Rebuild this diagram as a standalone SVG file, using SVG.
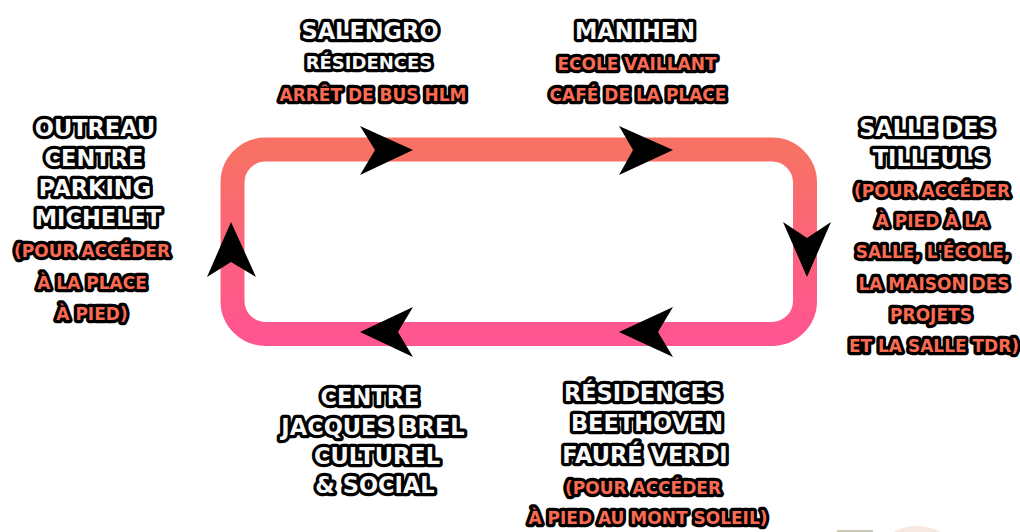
<svg xmlns="http://www.w3.org/2000/svg" width="1020" height="532" viewBox="0 0 1020 532">
<defs>
<linearGradient id="loopGrad" x1="0" y1="0" x2="0" y2="1">
<stop offset="0" stop-color="#F77264"/>
<stop offset="1" stop-color="#FF5590"/>
</linearGradient>
<style>
text{font-family:"DejaVu Sans","Liberation Sans",sans-serif;font-weight:bold;text-anchor:middle;stroke:#000;stroke-width:6.5;stroke-linejoin:round;paint-order:stroke fill}
.w{fill:#F9F9F9;font-size:22.5px}
.s{fill:#F9F9F9;font-size:18px}
.o{fill:#F96A52;font-size:17px}
.arrow{fill:#000}
</style>
</defs>
<rect width="1020" height="532" fill="#FFFFFF"/>
<g id="connectors">
<rect x="232.5" y="149.5" width="572.5" height="184.5" rx="33" fill="none" stroke="url(#loopGrad)" stroke-width="24"/>
<polygon class="arrow" points="413,150 360,126 375,150 360,175"/>
<polygon class="arrow" points="673,150 619,126 633,150 619,175"/>
<polygon class="arrow" points="807,277 783,222 807,238 831,222"/>
<polygon class="arrow" points="619,332 673,307 658,332 673,357"/>
<polygon class="arrow" points="360,332 413,307 398,332 413,357"/>
<polygon class="arrow" points="231,222 207,277 231,262 256,277"/>
</g>
<g id="node-salengro">
<text class="w" x="370" y="39">SALENGRO</text>
<text class="s" x="369" y="69">RÉSIDENCES</text>
<text class="o" x="373" y="101">ARRÊT DE BUS HLM</text>
</g>
<g id="node-manihen">
<text class="w" x="635" y="39">MANIHEN</text>
<text class="o" x="637" y="70">ECOLE VAILLANT</text>
<text class="o" x="638" y="101">CAFÉ DE LA PLACE</text>
</g>
<g id="node-outreau">
<text class="w" x="95" y="136">OUTREAU</text>
<text class="w" x="94" y="166">CENTRE</text>
<text class="w" x="95" y="196">PARKING</text>
<text class="w" x="98" y="226">MICHELET</text>
<text class="o" x="92" y="257">(POUR ACCÉDER</text>
<text class="o" x="92" y="289">À LA PLACE</text>
<text class="o" x="92" y="320">À PIED)</text>
</g>
<g id="node-tilleuls">
<text class="w" x="927" y="136">SALLE DES</text>
<text class="w" x="931" y="166">TILLEULS</text>
<text class="o" x="932" y="197">(POUR ACCÉDER</text>
<text class="o" x="932" y="227">À PIED À LA</text>
<text class="o" x="933" y="258">SALLE, L'ÉCOLE,</text>
<text class="o" x="934" y="290">LA MAISON DES</text>
<text class="o" x="931" y="321">PROJETS</text>
<text class="o" x="934" y="352">ET LA SALLE TDR)</text>
</g>
<g id="node-brel">
<text class="w" x="370" y="405">CENTRE</text>
<text class="w" x="373" y="435">JACQUES BREL</text>
<text class="w" x="377" y="464">CULTUREL</text>
<text class="w" x="375" y="493">&amp; SOCIAL</text>
</g>
<g id="node-beethoven">
<text class="w" x="643" y="401">RÉSIDENCES</text>
<text class="w" x="647" y="431">BEETHOVEN</text>
<text class="w" x="645" y="463">FAURÉ VERDI</text>
<text class="o" x="643" y="494">(POUR ACCÉDER</text>
<text class="o" x="648" y="524">À PIED AU MONT SOLEIL)</text>
</g>
<g id="decor">
<rect x="837" y="530" width="36" height="2" fill="#C9C9B5"/>
<ellipse cx="917" cy="545" rx="32" ry="19" fill="#F8E8E2"/>
</g>
</svg>
